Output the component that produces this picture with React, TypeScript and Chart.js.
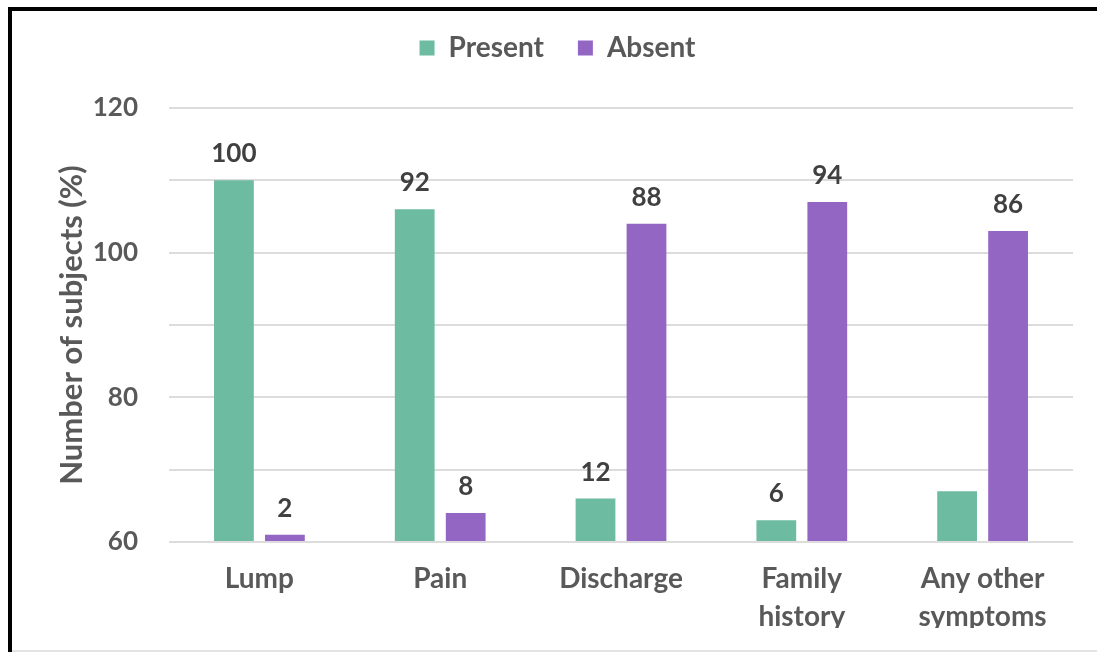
import React, { useEffect, useRef } from "react";
import { Chart, registerables } from "chart.js";

Chart.register(...registerables);

// Symptom categories (multi-line where the label wraps)
const categories: (string | string[])[] = [
  "Lump",
  "Pain",
  "Discharge",
  ["Family", "history"],
  ["Any other", "symptoms"],
];

// Percentage of subjects per category
const presentValues = [100, 92, 12, 6, 14];
const absentValues = [2, 8, 88, 94, 86];

// Which bars carry a value label above them
const presentLabelShown = [true, true, true, true, false];
const absentLabelShown = [true, true, true, true, true];

// Y axis: tick positions and the text printed at each
const yTickValues = [0, 20, 40, 60, 80, 100, 120];
const yTickLabels = ["60", "", "80", "", "100", "", "120"];

const PRESENT_COLOR = "#6dbba1";
const ABSENT_COLOR = "#9366c4";
const AXIS_TEXT = "#595959";
const LABEL_TEXT = "#404040";
const GRID = "#dcdcdc";
const FONT = "Lato, 'Open Sans', sans-serif";

const valueLabels = {
  id: "valueLabels",
  afterDatasetsDraw(chart: any) {
    const ctx = chart.ctx;
    const shown = [presentLabelShown, absentLabelShown];
    ctx.save();
    ctx.font = `bold 26px ${FONT}`;
    ctx.fillStyle = LABEL_TEXT;
    ctx.textAlign = "center";
    ctx.textBaseline = "alphabetic";
    chart.data.datasets.forEach((ds: any, di: number) => {
      const meta = chart.getDatasetMeta(di);
      meta.data.forEach((bar: any, i: number) => {
        if (!shown[di][i]) return;
        ctx.fillText(String(ds.data[i]), bar.x, bar.y - 18);
      });
    });
    ctx.restore();
  },
};

const legendHeight = {
  id: "legendHeight",
  beforeInit(chart: any) {
    const legend = chart.legend;
    if (!legend) return;
    const fit = legend.fit;
    legend.fit = function () {
      fit.call(this);
      this.height = 108;
    };
  },
};

export default function App() {
  const canvasRef = useRef<HTMLCanvasElement | null>(null);

  useEffect(() => {
    const canvas = canvasRef.current;
    if (!canvas) return;
    const chart = new Chart(canvas, {
      type: "bar",
      data: {
        labels: categories as any,
        datasets: [
          {
            label: "Present",
            data: presentValues,
            backgroundColor: PRESENT_COLOR,
            barPercentage: 0.78,
            categoryPercentage: 0.564,
          },
          {
            label: "Absent",
            data: absentValues,
            backgroundColor: ABSENT_COLOR,
            barPercentage: 0.78,
            categoryPercentage: 0.564,
          },
        ],
      },
      options: {
        responsive: false,
        animation: false,
        layout: { padding: { top: 0, left: 42, right: 24, bottom: 0 } },
        plugins: {
          tooltip: { enabled: false },
          legend: {
            position: "top",
            labels: {
              font: { family: FONT, size: 28, weight: "bold" },
              color: AXIS_TEXT,
              boxWidth: 15,
              boxHeight: 15,
              padding: 34,
            },
          },
        },
        scales: {
          x: {
            grid: { display: false },
            border: { display: false },
            ticks: {
              font: { family: FONT, size: 28, weight: "bold", lineHeight: 1.36 },
              color: AXIS_TEXT,
              padding: 10,
              maxRotation: 0,
              autoSkip: false,
            },
            afterFit(scale: any) {
              scale.height = 140;
            },
          },
          y: {
            min: 0,
            max: 120,
            afterBuildTicks(scale: any) {
              scale.ticks = yTickValues.map((v) => ({ value: v }));
            },
            grid: { color: GRID, lineWidth: 2, drawTicks: false },
            border: { display: false },
            ticks: {
              font: { family: FONT, size: 26, weight: "bold" },
              color: AXIS_TEXT,
              padding: 31,
              callback: (value: any) => {
                const idx = yTickValues.indexOf(Number(value));
                return idx >= 0 ? yTickLabels[idx] : "";
              },
            },
            title: {
              display: true,
              text: "Number of subjects (%)",
              font: { family: FONT, size: 31, weight: "bold" },
              color: AXIS_TEXT,
              padding: { top: 11, bottom: 0 },
            },
            afterFit(scale: any) {
              scale.width = 127;
            },
          },
        },
      },
      plugins: [valueLabels, legendHeight],
    });
    return () => chart.destroy();
  }, []);

  return (
    <div
      style={{
        position: "fixed",
        left: 0,
        top: 0,
        width: 1097,
        height: 652,
        background: "#ffffff",
        overflow: "hidden",
      }}
    >
      <div style={{ position: "absolute", left: 0, top: 0, width: 1097, height: 628, overflow: "hidden" }}>
        <canvas ref={canvasRef} width={1097} height={682} style={{ display: "block" }} />
      </div>
      {/* frame: heavy black top and left edges, light rule at the bottom */}
      <div style={{ position: "absolute", left: 8, top: 7, width: 1089, height: 4, background: "#000" }} />
      <div style={{ position: "absolute", left: 8, top: 7, width: 4, height: 645, background: "#000" }} />
      <div style={{ position: "absolute", left: 12, top: 650, width: 1085, height: 2, background: "#e3e3e3" }} />
    </div>
  );
}
